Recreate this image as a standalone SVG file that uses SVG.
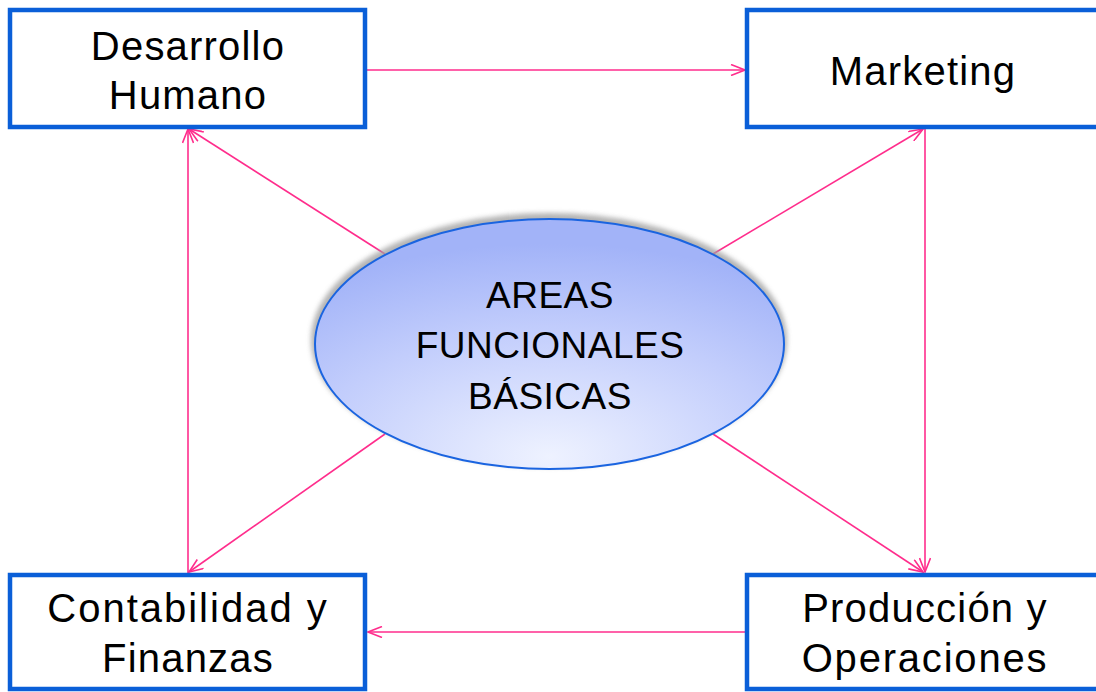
<svg xmlns="http://www.w3.org/2000/svg" width="1096" height="692" viewBox="0 0 1096 692">
<style>
.box{fill:#fff;stroke:#0a5fd8;stroke-width:4.5}
.lbl{font-family:"Liberation Sans",Arial,sans-serif;font-size:40px;fill:#000;text-anchor:middle;letter-spacing:1.2px}
.conn{stroke:#ff2d8c;stroke-width:1.6;fill:none;marker-end:url(#arr)}
</style>
<defs>
<marker id="arr" viewBox="0 0 16 12" refX="15" refY="6" markerWidth="16" markerHeight="12" markerUnits="userSpaceOnUse" orient="auto">
<path d="M1,0.5 L15,6 L1,11.5" fill="none" stroke="#ff2d8c" stroke-width="1.6"/>
</marker>
<radialGradient id="eg" cx="0.5" cy="0.95" r="0.85" fx="0.5" fy="0.95">
<stop offset="0" stop-color="#eef2ff"/>
<stop offset="0.6" stop-color="#c2cdfc"/>
<stop offset="1" stop-color="#a2b3f8"/>
</radialGradient>
<filter id="sh" x="-10%" y="-20%" width="120%" height="140%">
<feGaussianBlur stdDeviation="2.5"/>
</filter>
</defs>
<g id="connectors">
<line class="conn" x1="385" y1="254" x2="189" y2="129"/>
<line class="conn" x1="367" y1="70" x2="745" y2="70"/>
<line class="conn" x1="188" y1="573" x2="188" y2="129"/>
<line class="conn" x1="385" y1="434" x2="189" y2="572"/>
<line class="conn" x1="713" y1="254" x2="923" y2="129"/>
<line class="conn" x1="925" y1="128" x2="925" y2="572"/>
<line class="conn" x1="713" y1="434" x2="923" y2="572"/>
<line class="conn" x1="745" y1="632" x2="368" y2="632"/>
</g>
<g id="desarrollo">
<rect class="box" x="10" y="10" width="355" height="117"/>
<text class="lbl" x="188" y="60">Desarrollo</text>
<text class="lbl" x="188" y="109">Humano</text>
</g>
<g id="marketing">
<rect class="box" x="747" y="10" width="360" height="117"/>
<text class="lbl" x="923" y="85">Marketing</text>
</g>
<g id="contabilidad">
<rect class="box" x="10" y="575" width="355" height="114"/>
<text class="lbl" x="188" y="622" style="letter-spacing:2px">Contabilidad y</text>
<text class="lbl" x="188" y="672">Finanzas</text>
</g>
<g id="produccion">
<rect class="box" x="747" y="575" width="360" height="114"/>
<text class="lbl" x="925" y="622">Producción y</text>
<text class="lbl" x="925" y="672" style="letter-spacing:1.8px">Operaciones</text>
</g>
<g id="areas">
<ellipse cx="549" cy="340" rx="238" ry="127" fill="#a0a0a0" filter="url(#sh)" opacity="0.8"/>
<ellipse cx="549.5" cy="344" rx="234.5" ry="125" fill="url(#eg)" stroke="#1a64e0" stroke-width="2"/>
<text class="lbl" x="550" y="308" style="font-size:37px;letter-spacing:0.5px">AREAS</text>
<text class="lbl" x="550" y="358" style="font-size:37px;letter-spacing:0.5px">FUNCIONALES</text>
<text class="lbl" x="550" y="409" style="font-size:37px;letter-spacing:0.5px">BÁSICAS</text>
</g>
</svg>
